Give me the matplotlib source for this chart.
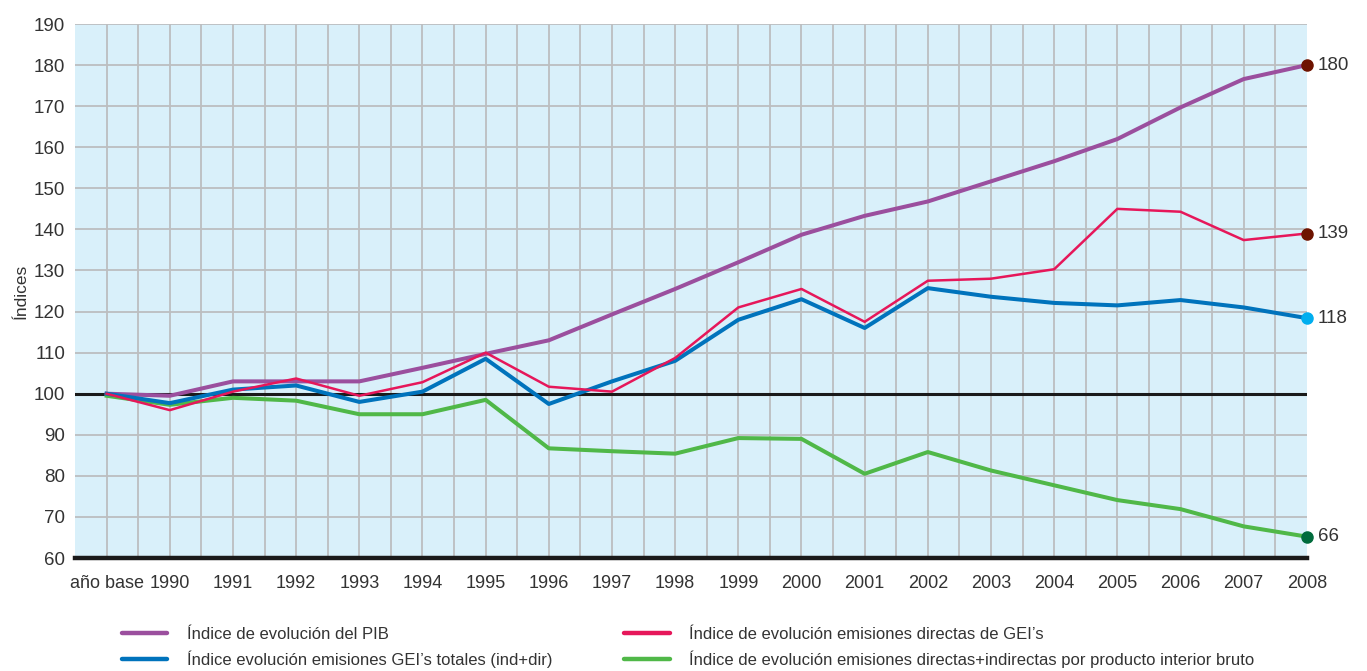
import numpy as np
import matplotlib
matplotlib.use('Agg')
import matplotlib.pyplot as plt
from matplotlib.lines import Line2D

# ── data ────────────────────────────────────────────────────────────────
years = ["año base", "1990", "1991", "1992", "1993", "1994", "1995", "1996",
         "1997", "1998", "1999", "2000", "2001", "2002", "2003", "2004",
         "2005", "2006", "2007", "2008"]

pib = [100, 99.5, 103, 103, 103, 106.3, 109.7, 113, 119.3, 125.5, 132,
       138.7, 143.3, 146.8, 151.7, 156.6, 162, 169.7, 176.6, 180]
gei_directas = [100, 96, 100.5, 103.7, 99.5, 102.8, 110, 101.7, 100.5, 108.7,
                121, 125.5, 117.5, 127.5, 128, 130.3, 145, 144.3, 137.4, 139]
gei_totales = [100, 97.7, 101, 102, 98, 100.5, 108.5, 97.5, 103, 108, 118,
               123, 116, 125.7, 123.6, 122.1, 121.5, 122.8, 121, 118.4]
gei_por_pib = [99.5, 97.3, 99, 98.3, 95, 95, 98.5, 86.7, 86, 85.4, 89.2, 89,
               80.5, 85.8, 81.3, 77.7, 74.1, 71.9, 67.7, 65.2]

end_labels = ["180", "139", "118", "66"]

legend_labels = ["Índice de evolución del PIB",
                 "Índice evolución emisiones GEI’s totales (ind+dir)",
                 "Índice de evolución emisiones directas de GEI’s",
                 "Índice de evolución emisiones directas+indirectas por producto interior bruto"]

# ── style ───────────────────────────────────────────────────────────────
plt.rcParams['font.family'] = ['Liberation Sans', 'DejaVu Sans']

c_pib, c_dir, c_tot, c_gpib = '#9b4f9e', '#e6175a', '#0073bc', '#50b848'
text_col = '#333333'

fig = plt.figure(figsize=(13.67, 6.71), dpi=100)
ax = fig.add_axes([0.0549, 0.1684, 0.9011, 0.7958])
ax.set_facecolor('#d9f0fa')

x = np.arange(len(years))
ax.set_xlim(-0.5, len(years) - 1)
ax.set_ylim(60, 190)

ax.set_yticks(np.arange(60, 191, 10))
ax.set_xticks(x)
ax.set_xticklabels(years)
ax.set_xticks(np.arange(-0.5, len(years) - 1, 1), minor=True)
ax.grid(True, which='both', color='#bcbec0', lw=1.3)
ax.set_axisbelow(True)
# no gridline on the left and right edges
ax.xaxis.get_major_ticks()[-1].gridline.set_visible(False)
ax.xaxis.get_minor_ticks()[0].gridline.set_visible(False)
ax.tick_params(which='both', length=0)
ax.tick_params(axis='y', labelsize=13.5, labelcolor=text_col, pad=7)
ax.tick_params(axis='x', labelsize=13, labelcolor=text_col, pad=12)
for s in ax.spines.values():
    s.set_visible(False)

ax.axhline(100, color='#1a1a1a', lw=2.2, zorder=2)
ax.axhline(60, color='#1a1a1a', lw=3.2, zorder=2, clip_on=False)

ax.set_ylabel("Índices", fontsize=12.5, color=text_col, labelpad=4)

ax.plot(x, pib, color=c_pib, lw=2.9, zorder=3)
ax.plot(x, gei_por_pib, color=c_gpib, lw=2.9, zorder=3)
ax.plot(x, gei_totales, color=c_tot, lw=2.9, zorder=4)
ax.plot(x, gei_directas, color=c_dir, lw=1.8, zorder=5)

# end markers and labels
ends = [pib[-1], gei_directas[-1], gei_totales[-1], gei_por_pib[-1]]
mcols = ['#6e1300', '#6e1300', '#00aeef', '#006b3c']
for val, lab, mc in zip(ends, end_labels, mcols):
    ax.plot(x[-1], val, 'o', ms=8, color=mc, zorder=6, clip_on=False)
    ax.annotate(lab, (x[-1], val), xytext=(8, 0), textcoords='offset points',
                va='center', ha='left', fontsize=13.5, color=text_col)

handles = [Line2D([], [], color=c, lw=3.2, solid_capstyle='round')
           for c in (c_pib, c_tot, c_dir, c_gpib)]
fig.legend(handles, legend_labels, ncol=2, loc='upper left',
           bbox_to_anchor=(0.089, 0.066), frameon=False,
           prop={'size': 12}, labelcolor=text_col,
           handlelength=2.75, handletextpad=1.15, columnspacing=4.3,
           labelspacing=0.5, borderaxespad=0, borderpad=0)

plt.savefig('out.png', dpi=100)
